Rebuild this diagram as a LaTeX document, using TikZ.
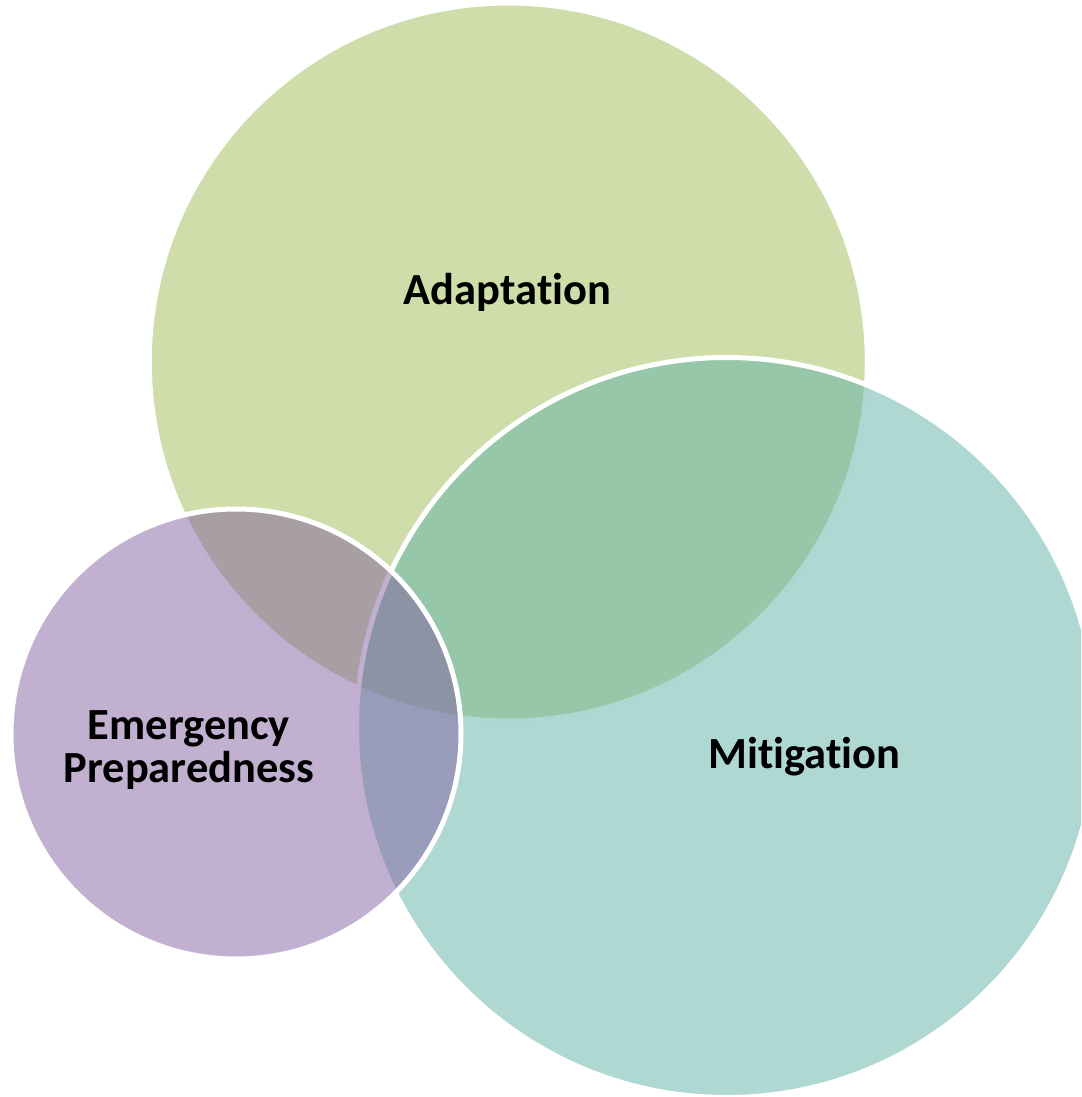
\documentclass[tikz,border=0pt]{standalone}
\usepackage{fontspec}
\setmainfont{Carlito}[Ligatures=NoCommon]
\definecolor{adaptc}{RGB}{159,187,87}
\definecolor{mitigc}{RGB}{95,177,167}
\definecolor{emergc}{RGB}{131,97,161}
\begin{document}
\begin{tikzpicture}[x=1pt,y=-1pt,
  venn/.style={circle,draw=white,line width=5pt,fill opacity=0.5,inner sep=0pt,outer sep=0pt},
  lbl/.style={font=\fontsize{44.5}{43}\selectfont\bfseries,text=black,inner sep=0pt,align=center}]
\useasboundingbox (0,0) rectangle (1081,1097);
\clip (0,0) rectangle (1081,1097);
\node[venn,fill=adaptc,minimum size=718pt] (A) at (508.3,362) {};
\node[venn,fill=mitigc,minimum size=740pt] (M) at (726.5,727.5) {};
\node[venn,fill=emergc,minimum size=450pt] (E) at (236,734) {};
\node[lbl,anchor=base] (tA) at (507.5,304) {Adaptation};
\node[lbl,anchor=base] (tM) at (804.5,768) {Mitigation};
\node[lbl,anchor=base] (tE) at (189,782) {Emergency\\Preparedness};
\end{tikzpicture}
\end{document}
